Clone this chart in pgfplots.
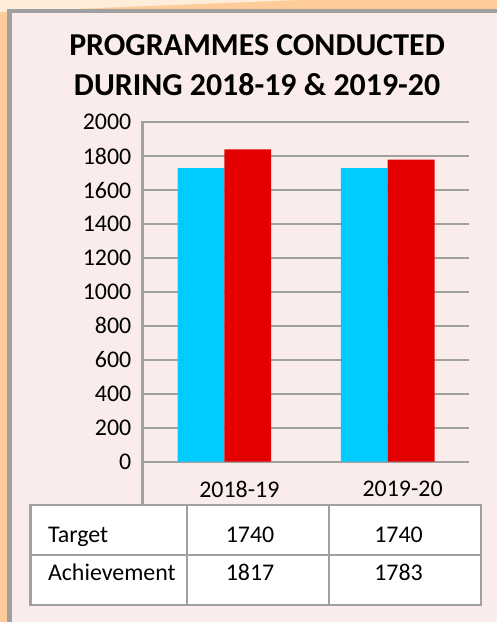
\documentclass[border=0pt]{standalone}
\usepackage{pgfplots}
\pgfplotsset{compat=1.18}
\usepackage{fontspec}
\setmainfont{Carlito}
\definecolor{peach}{RGB}{253,204,153}
\definecolor{panel}{RGB}{250,236,235}
\definecolor{gridgray}{RGB}{160,160,160}
\definecolor{tcyan}{RGB}{0,204,255}
\definecolor{ared}{RGB}{228,0,0}
\begin{document}
\begin{tikzpicture}[x=1pt,y=1pt]
\fill[peach] (0,0) rectangle (499,624);
\fill[white!65!peach] (0,624) -- (0,612) -- (300,624) -- cycle;
\fill[panel] (9.5,0) rectangle (499,613);
\draw[gridgray, line width=4.5pt] (9.5,0) -- (9.5,613) -- (499,613);
\node[anchor=base, font=\fontsize{32}{38}\selectfont\bfseries] at (258,568) {PROGRAMMES CONDUCTED};
\node[anchor=base, font=\fontsize{32}{38}\selectfont\bfseries] at (258,528) {DURING 2018-19 \& 2019-20};
\begin{axis}[
  at={(143.3pt,160.7pt)}, anchor=south west,
  scale only axis, width=327.7pt, height=340.6pt,
  ybar, ybar=0pt, bar width=47pt,
  xmin=-0.5, xmax=1.5, ymin=0, ymax=2000,
  xtick={0,1}, xticklabels={2018-19,2019-20},
  ytick={0,200,...,2000},
  axis line style={draw=none},
  major tick length=0pt,
  ymajorgrids, major grid style={gridgray, line width=2pt},
  ticklabel style={font=\fontsize{24}{28}\selectfont},
  /pgf/number format/assume math mode=true,
  /pgf/number format/1000 sep={},
  yticklabel style={xshift=-8pt},
  xticklabel style={yshift=-16pt, xshift=15pt},
  clip=false,
]
\addplot[fill=tcyan, draw=none] coordinates {(0,1730) (1,1730)};
\addplot[fill=ared, draw=none] coordinates {(0,1840) (1,1780)};
\end{axis}
\draw[gridgray, line width=3pt] (143.3,117) -- (143.3,502.3);
\fill[white] (30.7,17) rectangle (482.7,117);
\draw[gridgray, line width=2.5pt] (30.7,17) rectangle (482.7,117);
\draw[gridgray, line width=2.5pt] (187.7,17) -- (187.7,117) (330,17) -- (330,117) (30.7,67) -- (482.7,67);
\begin{scope}[every node/.style={font=\fontsize{24}{28}\selectfont, inner sep=0pt}]
\node[anchor=base west] at (48,80) {Target};
\node[anchor=base west] at (48,41) {Achievement};
\node[anchor=base] at (251,80) {1740};
\node[anchor=base] at (400,80) {1740};
\node[anchor=base] at (251,41) {1817};
\node[anchor=base] at (400,41) {1783};
\end{scope}
\end{tikzpicture}
\end{document}
